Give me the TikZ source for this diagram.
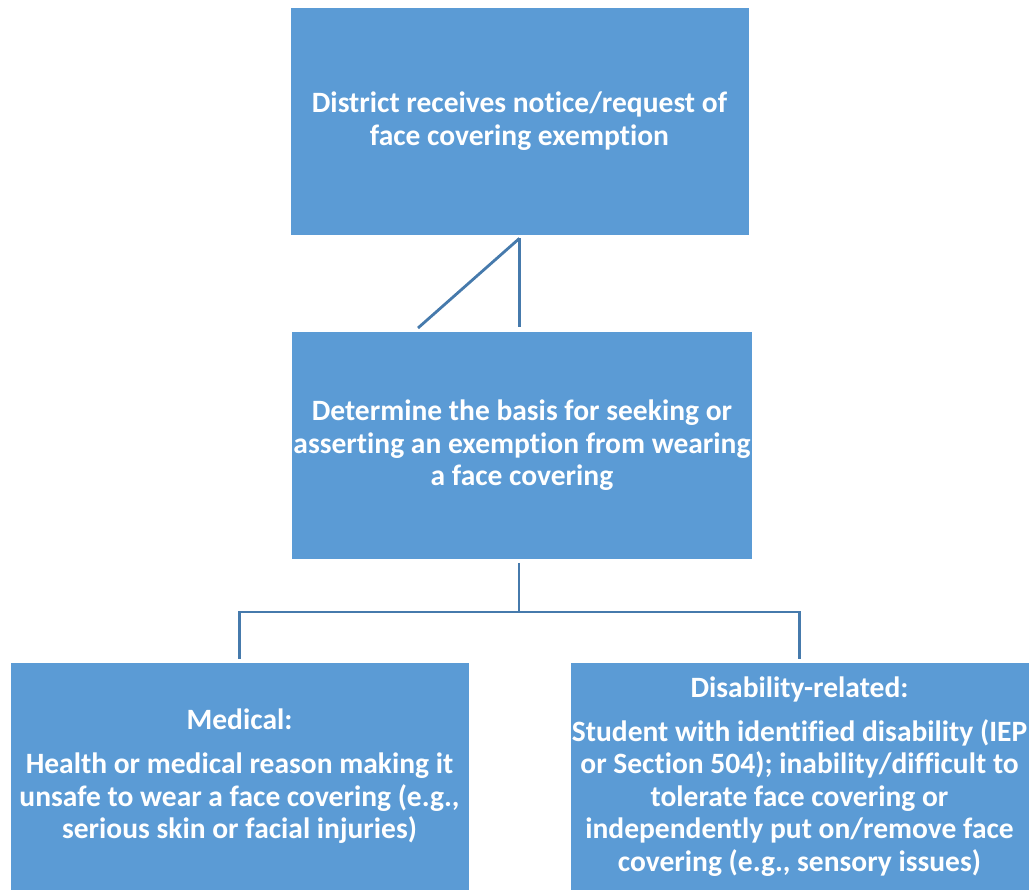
\documentclass[tikz,border=0pt]{standalone}
\usepackage{fontspec}
\setmainfont{Carlito}[Ligatures=CommonOff]
\usepackage{tikz}
\usetikzlibrary{calc}
\usetikzlibrary{positioning}
\definecolor{BoxBlue}{RGB}{91,155,213}
\definecolor{LineBlue}{RGB}{70,122,172}

\begin{document}
\begin{tikzpicture}[x=0.02cm, y=-0.02cm,
 block/.style = {fill=BoxBlue, draw=white, line width=0.4pt, rectangle, minimum height=4.56cm,
                 minimum width=9.18cm, align=center, text=white, inner sep=1pt,
                 font=\fontsize{16.8}{18.5}\selectfont\bfseries},
 link/.style = {draw=LineBlue, line width=1.6pt},
                        ]
    \useasboundingbox (0,0) rectangle (1034,890);

    \node [block] at (519.5,121) (notice) {District receives notice/request of\\face covering exemption};
    \node [block] at (522,445.5) (basis) {Determine the basis for seeking or\\asserting an exemption from wearing\\a face covering};
    \node [block] at (239.5,776.5) (medical) {Medical:\\[6.5pt]Health or medical reason making it\\unsafe to wear a face covering (e.g.,\\serious skin or facial injuries)};
    \node [block] at (799.5,776.5) (disab) {Disability-related:\\[6.5pt]Student with identified disability (IEP\\or Section 504); inability/difficult to\\tolerate face covering or\\independently put on/remove face\\covering (e.g., sensory issues)};

    \coordinate (slant) at (418,328);
    \coordinate (fork) at (519,612);

    \draw [link] ($(notice.south)+(0,3)$) -- (slant);
    \draw [link] ($(notice.south)+(0,3)$) -- ($(basis.north -| notice.south)+(0,-4)$);
    \draw [link] ($(fork |- basis.south)+(0,3)$) -- (fork);
    \draw [link] ($(medical.north)+(0,-3)$) |- (fork) -| ($(disab.north)+(0,-3)$);

\end{tikzpicture}
\end{document}
